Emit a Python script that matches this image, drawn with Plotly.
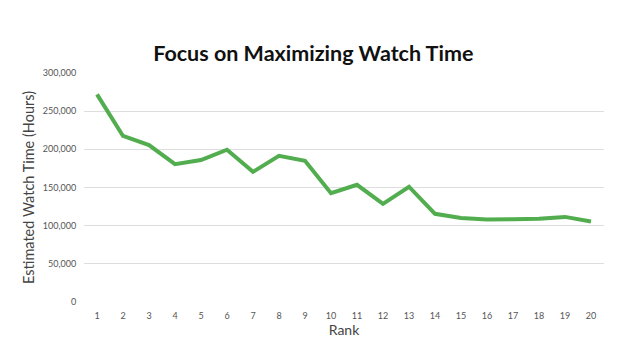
import plotly.graph_objects as go

ranks = [str(i) for i in range(1, 21)]
watch_hours = [272000, 217500, 205500, 180500, 186000, 199500, 170500, 191500, 185000, 142500,
               153500, 128500, 151000, 115500, 110000, 108000, 108500, 109000, 111500, 105500]

fig = go.Figure()
fig.add_trace(go.Scatter(x=ranks, y=watch_hours, mode="lines",
                         line=dict(color="#52ad4f", width=4)))

fig.update_layout(
    width=642, height=341,
    margin=dict(l=84, r=38, t=73, b=39),
    paper_bgcolor="white", plot_bgcolor="white",
    showlegend=False,
    title=dict(text="<b>Focus on Maximizing Watch Time</b>", x=0.488, xanchor="center",
               y=0.843, yanchor="middle",
               font=dict(family="Lato", size=21.5, color="#111111")),
    font=dict(family="Lato", color="#555555"),
    xaxis=dict(type="category", range=[-0.5, 19.5], showgrid=False, automargin=False,
               tickfont=dict(size=9, color="#555555"), ticks="outside", ticklen=5,
               tickcolor="rgba(0,0,0,0)",
               title=dict(text="Rank", font=dict(size=14, color="#444444"), standoff=0),
               showline=False, zeroline=False),
    yaxis=dict(range=[0, 300000], dtick=50000, tickformat=",", automargin=False,
               gridcolor="#dddddd", gridwidth=1, zeroline=False,
               tickfont=dict(size=9, color="#555555"), ticks="outside", ticklen=5,
               tickcolor="rgba(0,0,0,0)",
               title=dict(text="Estimated Watch Time (Hours)", font=dict(size=14.5, color="#444444"), standoff=4)),
)

fig.write_html("out.html")
